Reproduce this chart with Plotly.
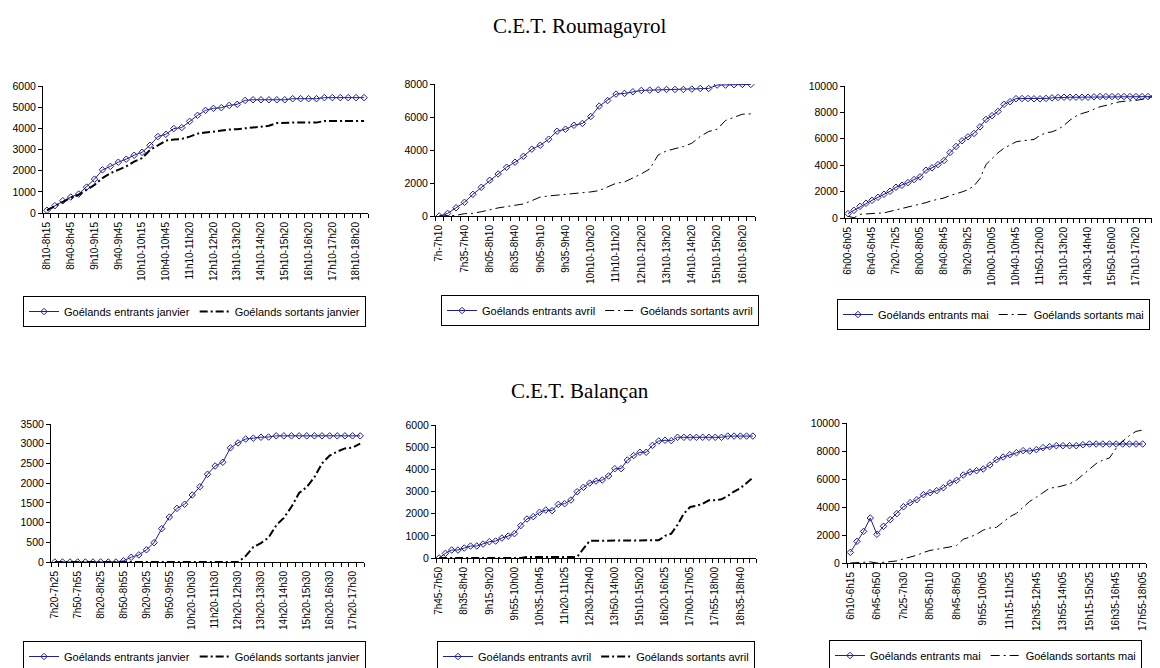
import plotly.graph_objects as go

# C.E.T. Roumagayrol
rou_jan_ticks = ["8h10-8h15", "8h40-8h45", "9h10-9h15", "9h40-9h45", "10h10-10h15",
                 "10h40-10h45", "11h10-11h20", "12h10-12h20", "13h10-13h20", "14h10-14h20",
                 "15h10-15h20", "16h10-16h20", "17h10-17h20", "18h10-18h20"]
rou_jan_in = [130, 345, 580, 755, 895, 1225, 1600, 2040, 2200, 2400,
              2545, 2730, 2870, 3200, 3610, 3720, 3990, 4035, 4330, 4615,
              4850, 4945, 4975, 5085, 5135, 5320, 5350, 5350, 5350, 5350,
              5350, 5400, 5400, 5400, 5400, 5450, 5450, 5450, 5450, 5450, 5450]
rou_jan_out = [130, 330, 560, 720, 860, 1100, 1330, 1650, 1880, 2040,
               2200, 2430, 2590, 2980, 3220, 3420, 3470, 3500, 3610, 3750,
               3800, 3850, 3900, 3940, 3960, 4000, 4030, 4050, 4120, 4250,
               4270, 4270, 4270, 4270, 4270, 4350, 4350, 4350, 4350, 4350, 4350]

rou_avr_ticks = ["7h-7h10", "7h35-7h40", "8h05-8h10", "8h35-8h40", "9h05-9h10",
                 "9h35-9h40", "10h10-10h20", "11h10-11h20", "12h10-12h20", "13h10-13h20",
                 "14h10-14h20", "15h10-15h20", "16h10-16h20"]
rou_avr_in = [0, 160, 500, 830, 1315, 1740, 2165, 2550, 2955, 3260,
              3620, 4050, 4290, 4655, 5140, 5260, 5500, 5610, 6030, 6660,
              7000, 7390, 7430, 7530, 7610, 7630, 7650, 7670, 7670, 7670,
              7690, 7730, 7730, 7935, 7935, 7955, 7975, 7975]
rou_avr_out = [0, 0, 40, 140, 160, 260, 385, 490, 570, 650,
               730, 930, 1150, 1215, 1255, 1300, 1360, 1400, 1460, 1540,
               1760, 1985, 2065, 2290, 2550, 2855, 3700, 3950, 4070, 4210,
               4410, 4820, 5120, 5260, 5790, 5990, 6170, 6190]

rou_mai_ticks = ["6h00-6h05", "6h40-6h45", "7h20-7h25", "8h00-8h05", "8h40-8h45",
                 "9h20-9h25", "10h00-10h05", "10h40-10h45", "11h50-12h00", "13h10-13h20",
                 "14h30-14h40", "15h50-16h00", "17h10-17h20"]
rou_mai_in = [330, 580, 885, 1115, 1340, 1570, 1800, 2025, 2330, 2480,
              2680, 2910, 3115, 3620, 3800, 4050, 4355, 4960, 5420, 5850,
              6150, 6405, 6910, 7470, 7750, 8075, 8610, 8810, 9040, 9050,
              9050, 9030, 9030, 9060, 9100, 9130, 9150, 9150, 9150, 9150,
              9150, 9180, 9200, 9200, 9200, 9200, 9200, 9200, 9200, 9200,
              9200, 9200]
rou_mai_out = [130, 20, 280, 320, 350, 370, 390, 500, 630, 710,
               835, 940, 1040, 1165, 1315, 1390, 1520, 1700, 1820, 1975,
               2150, 2430, 2990, 4050, 4500, 4940, 5290, 5520, 5770, 5850,
               5900, 5950, 6250, 6455, 6530, 6710, 7010, 7420, 7720, 7920,
               8050, 8250, 8430, 8530, 8660, 8780, 8840, 8860, 8910, 8990,
               9090, 9190]

# C.E.T. Balançan
bal_jan_ticks = ["7h20-7h25", "7h50-7h55", "8h20-8h25", "8h50-8h55", "9h20-9h25",
                 "9h50-9h55", "10h20-10h30", "11h20-11h30", "12h20-12h30", "13h20-13h30",
                 "14h20-14h30", "15h20-15h30", "16h20-16h30", "17h20-17h30"]
bal_jan_in = [0, 0, 0, 0, 0, 0, 0, 0, 0, 30,
              120, 180, 310, 490, 845, 1140, 1360, 1465, 1700, 1910,
              2225, 2435, 2530, 2895, 3020, 3120, 3140, 3165, 3170, 3200,
              3200, 3200, 3200, 3200, 3200, 3200, 3200, 3200, 3200, 3200, 3200]
bal_jan_out = [0, 0, 0, 0, 0, 0, 0, 0, 0, 0,
               0, 0, 0, 0, 0, 0, 0, 0, 0, 0,
               0, 0, 0, 0, 0, 150, 380, 480, 620, 930,
               1120, 1400, 1750, 1900, 2150, 2500, 2700, 2800, 2880, 2900, 3000]

bal_avr_ticks = ["7h45-7h50", "8h35-8h40", "9h15-9h20", "9h55-10h00", "10h35-10h45",
                 "11h20-11h25", "12h30-12h40", "13h50-14h00", "15h10-15h20", "16h20-16h25",
                 "17h00-17h05", "17h55-18h00", "18h35-18h40"]
bal_avr_in = [0, 210, 360, 360, 450, 540, 540, 630, 735, 765,
              900, 990, 1100, 1460, 1760, 1865, 2060, 2165, 2135, 2420,
              2450, 2615, 2990, 3190, 3380, 3470, 3520, 3700, 4030, 4030,
              4420, 4620, 4770, 4770, 5080, 5280, 5310, 5295, 5445, 5445,
              5445, 5445, 5445, 5445, 5445, 5445, 5500, 5500, 5500, 5500, 5500]
bal_avr_out = [0, 0, 0, 0, 0, 0, 0, 0, 0, 0,
               0, 0, 0, 0, 50, 50, 50, 50, 50, 50,
               50, 50, 50, 420, 780, 780, 780, 780, 780, 780,
               780, 780, 800, 800, 800, 800, 1000, 1100, 1500, 2000,
               2300, 2350, 2450, 2600, 2600, 2650, 2800, 3000, 3150, 3400, 3620]

bal_mai_ticks = ["6h10-6h15", "6h45-6h50", "7h25-7h30", "8h05-8h10", "8h45-8h50",
                 "9h55-10h05", "11h15-11h25", "12h35-12h45", "13h55-14h05", "15h15-15h25",
                 "16h35-16h45", "17h55-18h05"]
bal_mai_in = [760, 1550, 2260, 3215, 2050, 2620, 3095, 3525, 4020, 4310,
              4520, 4880, 5025, 5165, 5380, 5715, 5905, 6285, 6500, 6595,
              6715, 7000, 7380, 7570, 7740, 7880, 8025, 8000, 8095, 8240,
              8310, 8380, 8380, 8380, 8380, 8450, 8500, 8500, 8500, 8500,
              8500, 8500, 8500, 8500, 8500]
bal_mai_out = [0, 20, 30, 80, 0, 50, 80, 150, 300, 430,
               550, 750, 900, 980, 1050, 1150, 1250, 1700, 1850, 2050,
               2350, 2500, 2550, 2900, 3300, 3550, 4000, 4400, 4700, 5050,
               5350, 5400, 5500, 5650, 5900, 6300, 6700, 7100, 7350, 7500,
               8200, 8700, 9100, 9400, 9500]

# the page body adds an 8px margin, so the figure is 8px smaller and
# all layout positions below are given in window pixels
OFF = 8
W, H = 1160 - OFF, 668 - OFF
NAVY = "#1f1f99"
FONT = "Liberation Sans, Arial, sans-serif"


def px_x(s):
    return (s - OFF) / W


def px_y(s):
    return 1 - (s - OFF) / H


# (entrants, sortants, tick labels, label step, ymax, dtick, month, bold dash,
#  plot box px [x0, x1, ytop, ybottom], legend px [x, y])
panels = [
    (rou_jan_in, rou_jan_out, rou_jan_ticks, 3, 6000, 1000, "janvier", True,
     [43, 368, 86, 213], [23, 296]),
    (rou_avr_in, rou_avr_out, rou_avr_ticks, 3, 8000, 2000, "avril", False,
     [435, 755, 84, 216], [441, 295]),
    (rou_mai_in, rou_mai_out, rou_mai_ticks, 4, 10000, 2000, "mai", False,
     [845, 1157, 86, 218], [837, 299]),
    (bal_jan_in, bal_jan_out, bal_jan_ticks, 3, 3500, 500, "janvier", True,
     [51, 364, 424, 562], [23, 641]),
    (bal_avr_in, bal_avr_out, bal_avr_ticks, 4, 6000, 1000, "avril", True,
     [436, 756, 425, 558], [437, 641]),
    (bal_mai_in, bal_mai_out, bal_mai_ticks, 4, 10000, 2000, "mai", False,
     [847, 1146, 423, 563], [829, 640]),
]

fig = go.Figure()
layout = {}

for i, (v_in, v_out, ticks, step, ymax, dtick, month, bold, box, leg) in enumerate(panels, start=1):
    sfx = "" if i == 1 else str(i)
    xs = list(range(len(v_in)))
    lg = "legend" + sfx

    fig.add_trace(go.Scatter(
        x=xs, y=v_in, mode="lines+markers", name=f"Goélands entrants {month}",
        line=dict(color=NAVY, width=1),
        marker=dict(symbol="diamond-open", size=5, color=NAVY, line=dict(width=1)),
        xaxis="x" + sfx, yaxis="y" + sfx, legend=lg,
    ))
    fig.add_trace(go.Scatter(
        x=xs, y=v_out, mode="lines", name=f"Goélands sortants {month}",
        line=dict(color="black", width=2 if bold else 1,
                  dash="8px,3px,2px,3px" if bold else "9px,4px,2px,4px"),
        xaxis="x" + sfx, yaxis="y" + sfx, legend=lg,
    ))

    x0, x1, yt, yb = box
    # major ticks are invisible (they only push the labels down);
    # the visible marks are the minor ticks between categories
    layout["xaxis" + sfx] = dict(
        domain=[px_x(x0), px_x(x1)], anchor="y" + sfx, range=[-0.5, len(v_in) - 0.5],
        tickmode="array", tickvals=xs[::step][:len(ticks)], ticktext=ticks,
        tickangle=-90, ticks="outside", ticklen=4, tickcolor="rgba(0,0,0,0)",
        showline=True, linecolor="black", linewidth=1,
        showgrid=False, zeroline=False, automargin=False,
        tickfont=dict(family=FONT, size=10, color="black"),
        minor=dict(ticks="outside", ticklen=4, tickcolor="black", dtick=1, tick0=0.5,
                   showgrid=False),
    )
    layout["yaxis" + sfx] = dict(
        domain=[px_y(yb), px_y(yt)], anchor="x" + sfx, range=[0, ymax],
        dtick=dtick, tickformat="d", ticks="outside", ticklen=4, tickcolor="black",
        showline=True, linecolor="black", linewidth=1, showgrid=False, zeroline=False,
        automargin=False, tickfont=dict(family=FONT, size=10.5, color="black"),
    )
    layout[lg] = dict(
        x=px_x(leg[0]), y=px_y(leg[1]), xanchor="left", yanchor="top",
        orientation="h", bordercolor="black", borderwidth=1, bgcolor="white",
        font=dict(family=FONT, size=11, color="black"), traceorder="normal",
        itemwidth=30,
    )

fig.update_layout(
    width=W, height=H,
    margin=dict(l=0, r=0, t=0, b=0, autoexpand=False),
    paper_bgcolor="white", plot_bgcolor="white", showlegend=True,
    annotations=[
        dict(text="C.E.T. Roumagayrol", x=px_x(580), y=px_y(26), xref="paper", yref="paper",
             xanchor="center", yanchor="middle", showarrow=False,
             font=dict(family="Liberation Serif, serif", size=21, color="black")),
        dict(text="C.E.T. Balançan", x=px_x(580), y=px_y(391), xref="paper", yref="paper",
             xanchor="center", yanchor="middle", showarrow=False,
             font=dict(family="Liberation Serif, serif", size=21, color="black")),
    ],
    **layout,
)

fig.write_html("out.html")
